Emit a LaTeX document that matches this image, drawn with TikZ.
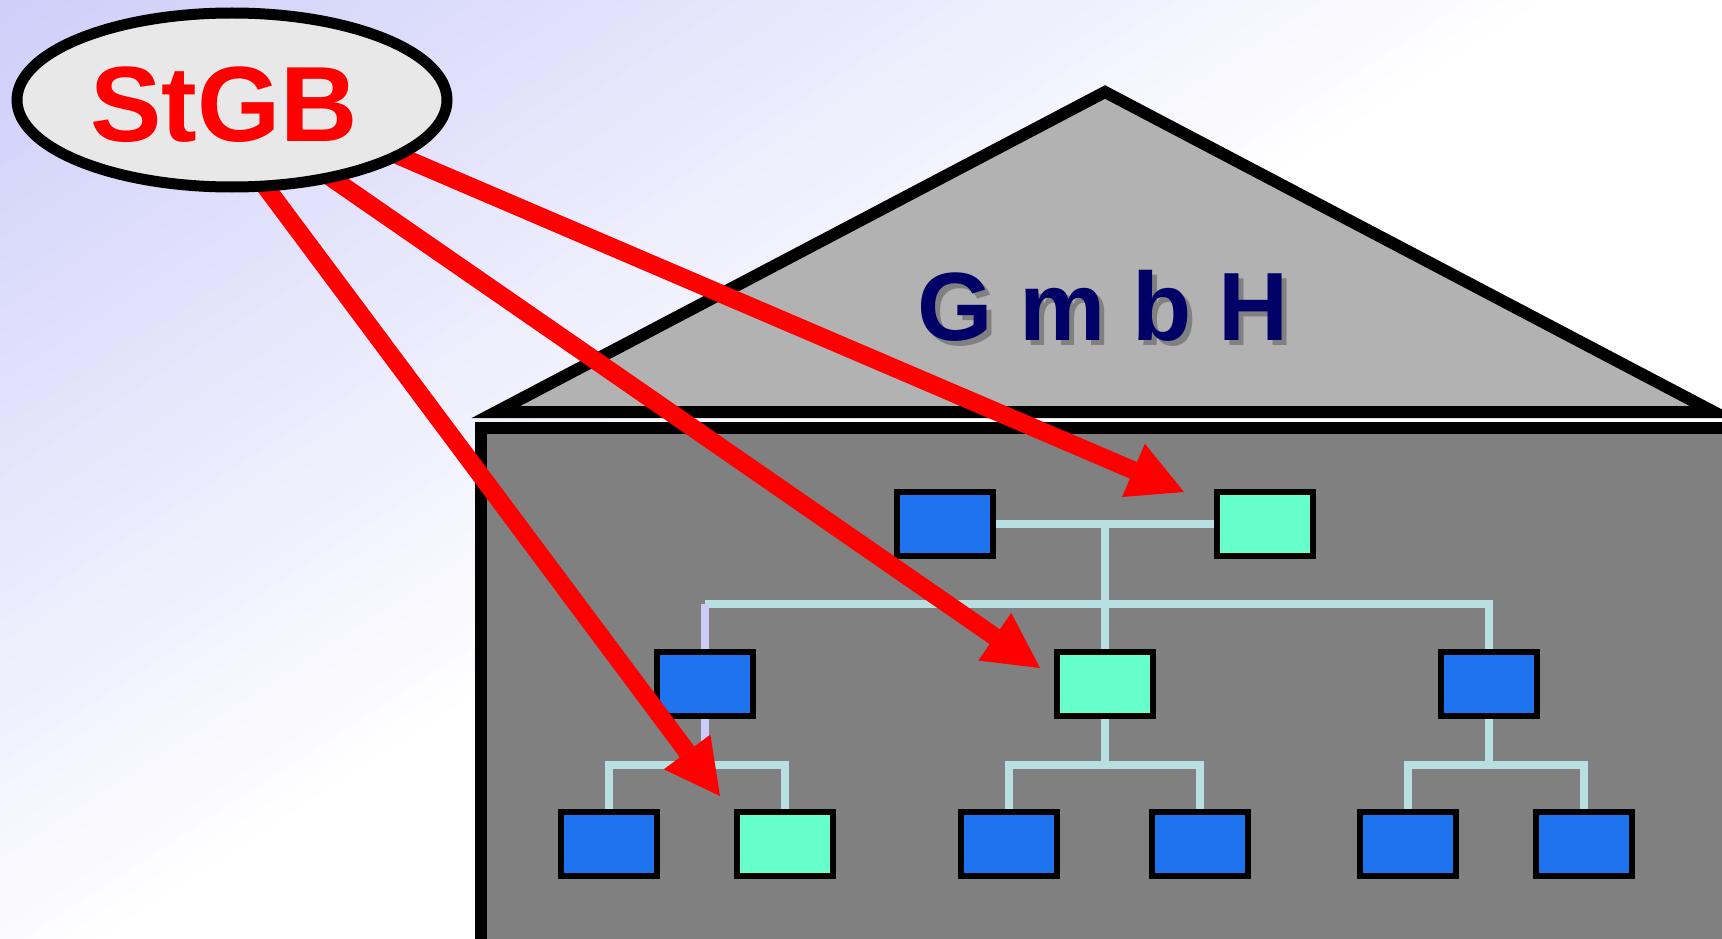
\documentclass[tikz,border=0pt]{standalone}
\usepackage{fontspec}
\setmainfont{Liberation Sans}
\usetikzlibrary{shapes.geometric,arrows.meta}

\definecolor{skylav}{RGB}{206,206,250}
\definecolor{roofgray}{RGB}{178,178,178}
\definecolor{wallgray}{RGB}{128,128,128}
\definecolor{unitblue}{RGB}{31,115,238}
\definecolor{unitgreen}{RGB}{102,255,204}
\definecolor{linkcyan}{RGB}{184,224,226}
\definecolor{linklav}{RGB}{204,204,248}
\definecolor{ovalgray}{RGB}{232,232,232}
\definecolor{navy}{RGB}{0,0,102}
\definecolor{shadowgray}{RGB}{128,128,128}

\pgfdeclarelayer{scenery}
\pgfdeclarelayer{links}
\pgfsetlayers{scenery,links,main}

\begin{document}
\begin{tikzpicture}[x=1pt,y=-1pt,
  unit/.style={draw=black, line width=5.5pt, minimum width=96pt,
               minimum height=64pt, inner sep=0pt},
  blueunit/.style={unit, fill=unitblue},
  greenunit/.style={unit, fill=unitgreen},
  link/.style={draw=linkcyan, line width=8pt},
  linklav/.style={draw=linklav, line width=8pt},
  lawarrow/.style={draw=red, line width=18pt,
                   -{Triangle[length=55pt,width=58pt,line width=0pt]}},
  bigtext/.style={font=\fontsize{107}{120}\selectfont\bfseries},
  housetext/.style={font=\fontsize{97}{110}\selectfont\bfseries},
]
\useasboundingbox (0,0) rectangle (1722,939);
\clip (0,0) rectangle (1722,939);

\begin{pgfonlayer}{scenery}
  % diagonal lavender-to-white background
  \fill[white] (0,0) rectangle (1722,939);
  \begin{scope}[rotate=-57]
    \foreach \i in {0,...,44} {
      \pgfmathsetmacro\p{max(0,100-(\i*20+10)/8.5)}
      \fill[skylav!\p!white] (\i*20,-3000) rectangle (\i*20+21,3000);
    }
  \end{scope}

  % house: roof and wall
  \draw[fill=roofgray, line width=12pt, line join=miter]
    (496,412) -- (1105,92) -- (1714,412) -- cycle;
  \draw[fill=wallgray, line width=12pt] (481,428) rectangle (1760,946);

  % company name with drop shadow
  \node[housetext, text=shadowgray, anchor=base] (gmbhshadow) at (1108,345) {G m b H};
  \node[housetext, text=navy, anchor=base] (gmbh) at (1103,340) {G m b H};
\end{pgfonlayer}

% organisation chart units
\node[blueunit]  (t1) at (945,524) {};
\node[greenunit] (t2) at (1265,524) {};
\node[blueunit]  (m1) at (705,684) {};
\node[greenunit] (m2) at (1105,684) {};
\node[blueunit]  (m3) at (1489,684) {};
\node[blueunit]  (b1) at (609,844) {};
\node[greenunit] (b2) at (785,844) {};
\node[blueunit]  (b3) at (1009,844) {};
\node[blueunit]  (b4) at (1200,844) {};
\node[blueunit]  (b5) at (1408,844) {};
\node[blueunit]  (b6) at (1584,844) {};

% junction points of the chart
\coordinate (hub) at (1105,604);
\coordinate (g1) at (705,765);
\coordinate (g2) at (1105,765);
\coordinate (g3) at (1489,765);

% chart connectors, kept behind the units
\begin{pgfonlayer}{links}
  \draw[link] (t1.east) -- (t2.west);
  \draw[link] (t1.east -| hub) -- (m2.north);
  \draw[link] (m1.north |- hub) -- (hub) -| (m3.north);
  \draw[linklav] (m1.north) -- (m1.north |- hub);
  \draw[linklav] (m1.south) -- (g1);
  \draw[link] (m2.south) -- (g2);
  \draw[link] (m3.south) -- (g3);
  \draw[link] (b1.north) |- (g1) -| (b2.north);
  \draw[link] (b3.north) |- (g2) -| (b4.north);
  \draw[link] (b5.north) |- (g3) -| (b6.north);
\end{pgfonlayer}

% law arrows
\coordinate (a1s) at (256,174);
\coordinate (a2s) at (320,170);
\coordinate (a3s) at (383,149);
\coordinate (a1e) at (720,796);
\coordinate (a2e) at (1040,668);
\coordinate (a3e) at (1184,492);
\draw[lawarrow] (a1s) -- (a1e);
\draw[lawarrow] (a2s) -- (a2e);
\draw[lawarrow] (a3s) -- (a3e);

% the code oval
\node[ellipse, draw=black, line width=11pt, fill=ovalgray,
      minimum width=430pt, minimum height=174pt, inner sep=0pt] (stgb) at (232,100) {};
\node[bigtext, text=red, anchor=base] (stgbtext) at (224,142) {StGB};
\end{tikzpicture}
\end{document}
